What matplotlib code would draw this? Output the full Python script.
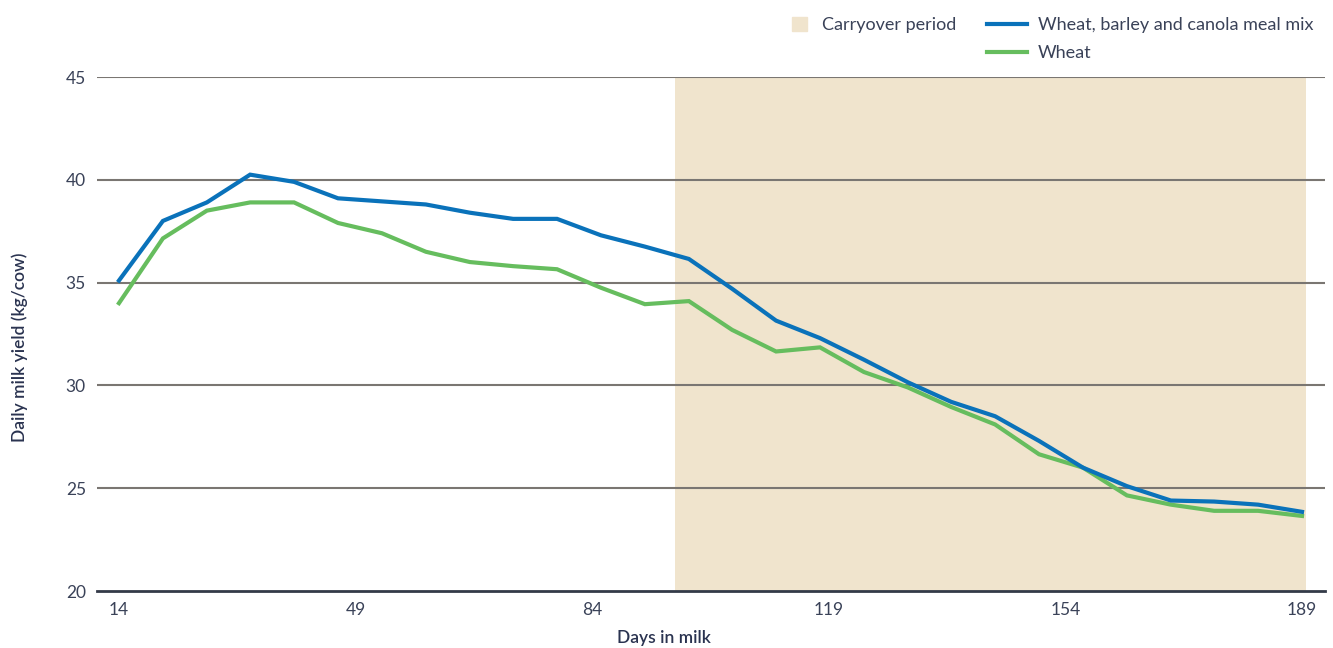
import matplotlib
matplotlib.use("Agg")
import matplotlib.pyplot as plt
from matplotlib.patches import Patch
from matplotlib.lines import Line2D

# data
days = [14, 20.5, 27, 33.4, 39.9, 46.4, 52.9, 59.4, 65.9, 72.3, 78.8, 85.3, 91.8, 98.3,
        104.7, 111.2, 117.7, 124.2, 130.7, 137.1, 143.6, 150.1, 156.6, 163.1, 169.6, 176, 182.5, 189]
mix = [35.1, 38.0, 38.9, 40.25, 39.9, 39.1, 38.95, 38.8, 38.4, 38.1, 38.1, 37.3, 36.75, 36.15,
       34.7, 33.15, 32.3, 31.25, 30.15, 29.2, 28.5, 27.3, 26.0, 25.1, 24.4, 24.35, 24.2, 23.85]
wheat = [34.0, 37.15, 38.5, 38.9, 38.9, 37.9, 37.4, 36.5, 36.0, 35.8, 35.65, 34.75, 33.95, 34.1,
         32.7, 31.65, 31.85, 30.65, 29.9, 28.95, 28.1, 26.65, 26.0, 24.65, 24.2, 23.9, 23.9, 23.65]
carryover = (96.3, 189.6)
xticks = [14, 49, 84, 119, 154, 189]
yticks = [20, 25, 30, 35, 40, 45]

BLUE = "#0a72ba"
GREEN = "#66bd5e"
SHADE = "#f0e4cd"
TEXT = "#2a3350"

plt.rcParams['font.family'] = ['Lato', 'DejaVu Sans']

fig = plt.figure(figsize=(13.33, 6.48), dpi=100)
ax = fig.add_axes([97/1333, 1-591/648, (1325-97)/1333, (591-77)/648])

ax.axvspan(carryover[0], carryover[1], color=SHADE, lw=0, zorder=0)
for y in yticks[1:]:
    ax.axhline(y, color="#7a7672", lw=1.5, zorder=1)
ax.plot(days, mix, color=BLUE, lw=3, zorder=3, solid_joinstyle='miter')
ax.plot(days, wheat, color=GREEN, lw=3, zorder=2, solid_joinstyle='miter')

ax.set_xlim(10.75, 192.4)
ax.set_ylim(20, 45)
ax.set_xticks(xticks)
ax.set_yticks(yticks)
ax.tick_params(length=0, labelsize=12.5, labelcolor="#3a4258")
ax.tick_params(axis='y', pad=8)
ax.tick_params(axis='x', pad=8)
for s in ['top', 'right', 'left']:
    ax.spines[s].set_visible(False)
ax.spines['bottom'].set_color("#333a48")
ax.spines['bottom'].set_linewidth(2)
ax.spines['bottom'].set_zorder(4)

fig.text(20/1333, 1-347/648, "Daily milk yield (kg/cow)", rotation=90, ha='center', va='center',
         fontsize=12.5, color=TEXT, fontweight='semibold')
fig.text(664/1333, 1-638/648, "Days in milk", ha='center', va='center',
         fontsize=12.5, color=TEXT, fontweight='semibold')

fig.legend(handles=[Patch(color=SHADE)], labels=["Carryover period"], loc='upper left',
           bbox_to_anchor=(792/1333, 1-17/648), frameon=False, fontsize=13,
           handlelength=0.85, handleheight=0.85, handletextpad=0.8,
           borderpad=0, borderaxespad=0, labelcolor="#3a4258")
fig.legend(handles=[Line2D([], [], color=BLUE, lw=3), Line2D([], [], color=GREEN, lw=3)],
           labels=["Wheat, barley and canola meal mix", "Wheat"], loc='upper left',
           bbox_to_anchor=(987/1333, 1-17/648), frameon=False, fontsize=13,
           handlelength=2.2, handletextpad=0.6, labelspacing=0.68,
           borderpad=0, borderaxespad=0, labelcolor="#3a4258")

fig.savefig("out.png", dpi=100)
